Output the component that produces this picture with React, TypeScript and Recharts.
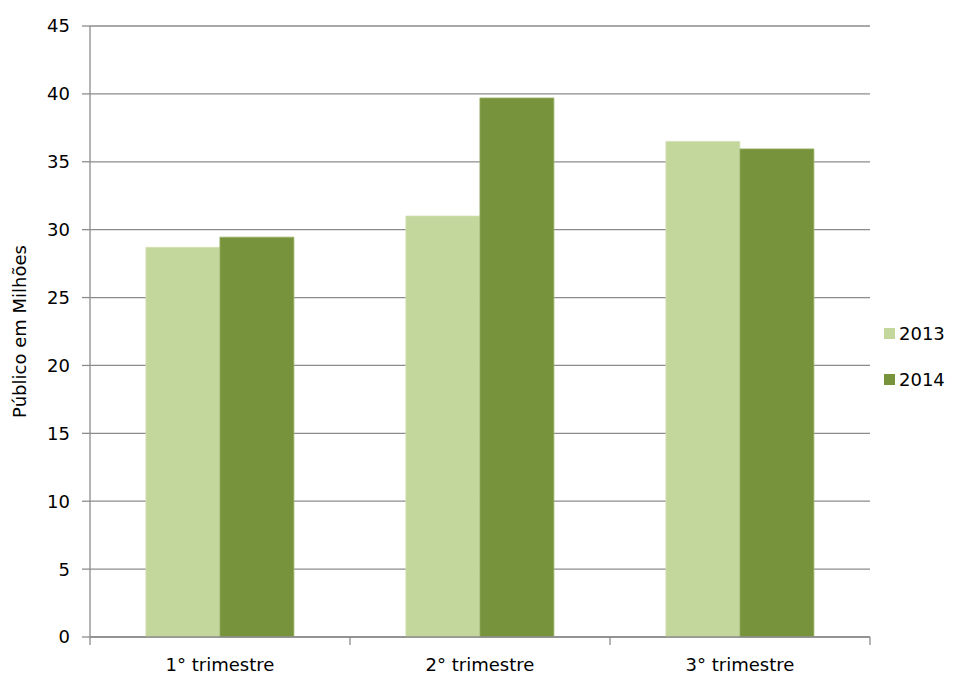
import {
  BarChart,
  Bar,
  XAxis,
  YAxis,
  CartesianGrid,
  Label,
} from 'recharts';

const categories = ['1° trimestre', '2° trimestre', '3° trimestre'];
const values2013 = [28.7, 31.0, 36.5];
const values2014 = [29.45, 39.7, 35.95];
const yTicks = [0, 5, 10, 15, 20, 25, 30, 35, 40, 45];
const boundaryTicks = [0, 1, 2, 3];
const seriesInfo = [
  { label: '2013', color: '#C3D69B' },
  { label: '2014', color: '#77933C' },
];

const data = categories.map((name, i) => ({
  name,
  pos: i + 0.5,
  y2013: values2013[i],
  y2014: values2014[i],
}));

const FONT = '"DejaVu Sans", sans-serif';
const AXIS_GRAY = '#8c8c8c';

const App = () => {
  return (
    <div style={{ position: 'absolute', left: 0, top: 0, width: 956, height: 675, background: '#fff' }}>
      <BarChart
        width={956}
        height={675}
        data={data}
        margin={{ top: 26, right: 86, bottom: 0, left: 0 }}
        barCategoryGap="21.5%"
        barGap={0}
      >
        <CartesianGrid vertical={false} stroke={AXIS_GRAY} strokeWidth={1.3} />
        <XAxis
          dataKey="name"
          xAxisId="b"
          axisLine={false}
          tickLine={false}
          tick={{ fontFamily: FONT, fontSize: 18, fill: '#000' }}
          tickMargin={14}
          height={37}
        />
        {/* boundary tick marks between the quarters */}
        <XAxis
          xAxisId="a"
          type="number"
          dataKey="pos"
          domain={[0, 3]}
          ticks={boundaryTicks}
          axisLine={{ stroke: AXIS_GRAY, strokeWidth: 1.3 }}
          tick={() => <g />}
          tickLine={{ stroke: AXIS_GRAY, strokeWidth: 1.3 }}
          tickSize={8}
          height={1}
        />
        <YAxis
          domain={[0, 45]}
          ticks={yTicks}
          interval={0}
          width={90}
          axisLine={{ stroke: AXIS_GRAY, strokeWidth: 1.3 }}
          tickLine={{ stroke: AXIS_GRAY, strokeWidth: 1.3 }}
          tickSize={8}
          tick={{ fontFamily: FONT, fontSize: 18, fill: '#000' }}
          tickMargin={12}
        >
          <Label
            value="Público em Milhões"
            angle={-90}
            position="insideLeft"
            offset={20}
            style={{ fontFamily: FONT, fontSize: 18, fill: '#000', textAnchor: 'middle' }}
          />
        </YAxis>
        <Bar xAxisId="b" dataKey="y2013" name="2013" fill="#C3D69B" stroke="#d3e2b4" strokeWidth={0.8} isAnimationActive={false} />
        <Bar xAxisId="b" dataKey="y2014" name="2014" fill="#77933C" stroke="#9ab36a" strokeWidth={0.8} isAnimationActive={false} />
      </BarChart>
      <div style={{ position: 'absolute', left: 884, top: 321, fontFamily: FONT, fontSize: 18, color: '#000' }}>
        {seriesInfo.map((item) => (
          <div key={item.label} style={{ display: 'flex', alignItems: 'center', height: 24, marginBottom: 22 }}>
            <span style={{ width: 11, height: 11, background: item.color, marginRight: 4, display: 'inline-block' }} />
            <span>{item.label}</span>
          </div>
        ))}
      </div>
    </div>
  );
};

export default App;
